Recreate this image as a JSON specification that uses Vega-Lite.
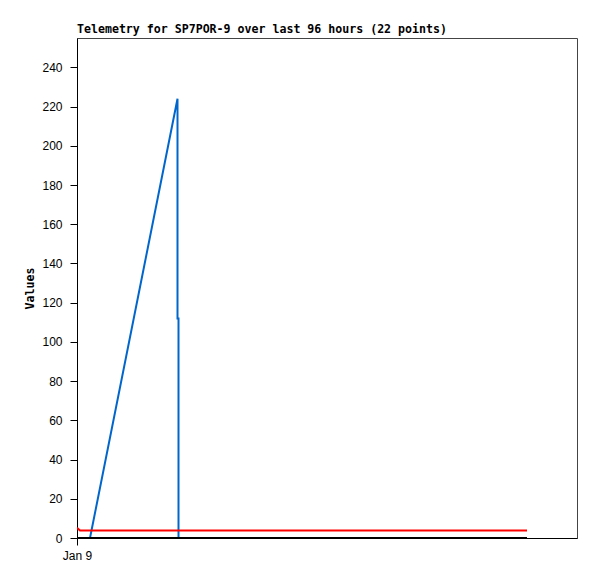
{
  "$schema": "https://vega.github.io/schema/vega-lite/v6.json",
  "autosize": {"type": "none"},
  "padding": {"left": 77, "top": 38, "right": 20, "bottom": 41},
  "width": 500,
  "height": 500,
  "background": "white",
  "title": {
    "text": "Telemetry for SP7POR-9 over last 96 hours (22 points)",
    "anchor": "start",
    "frame": "group",
    "font": "DejaVu Sans Mono",
    "fontSize": 11.6,
    "fontWeight": "bold",
    "color": "black",
    "offset": 2
  },
  "config": {
    "view": {"stroke": "#444", "strokeWidth": 1},
    "axis": {
      "grid": false,
      "domainColor": "black",
      "tickColor": "black",
      "labelFont": "Liberation Sans",
      "labelFontSize": 12,
      "labelColor": "black",
      "titleFont": "DejaVu Sans Mono",
      "titleFontSize": 11.6,
      "titleFontWeight": "bold",
      "titleColor": "black",
      "tickSize": 7
    }
  },
  "data": {
    "values": [
      {"series": "blue", "i": 0, "hour": 2.6, "value": 0},
      {"series": "blue", "i": 1, "hour": 20.1, "value": 224},
      {"series": "blue", "i": 2, "hour": 20.1, "value": 112},
      {"series": "blue", "i": 3, "hour": 20.3, "value": 112},
      {"series": "blue", "i": 4, "hour": 20.3, "value": 0},
      {"series": "red", "i": 0, "hour": 0, "value": 5.2},
      {"series": "red", "i": 1, "hour": 0.6, "value": 3.8},
      {"series": "red", "i": 2, "hour": 90, "value": 3.8},
      {"series": "black", "i": 0, "hour": 0, "value": 0},
      {"series": "black", "i": 1, "hour": 90, "value": 0}
    ]
  },
  "mark": {"type": "line", "strokeWidth": 2, "clip": true},
  "encoding": {
    "x": {
      "field": "hour",
      "type": "quantitative",
      "scale": {"domain": [0, 100], "nice": false, "zero": false},
      "axis": {"values": [0], "labelExpr": "'Jan 9'", "title": null, "labelPadding": 5, "labelFlush": false, "labelAlign": "center"}
    },
    "y": {
      "field": "value",
      "type": "quantitative",
      "scale": {"domain": [0, 255], "nice": false},
      "axis": {"values": [0, 20, 40, 60, 80, 100, 120, 140, 160, 180, 200, 220, 240], "title": "Values", "titlePadding": 6, "labelPadding": 8}
    },
    "color": {
      "field": "series",
      "type": "nominal",
      "scale": {"domain": ["black", "red", "blue"], "range": ["#000000", "#ff0000", "#0066cc"]},
      "legend": null
    },
    "order": {"field": "i", "type": "quantitative"}
  }
}
